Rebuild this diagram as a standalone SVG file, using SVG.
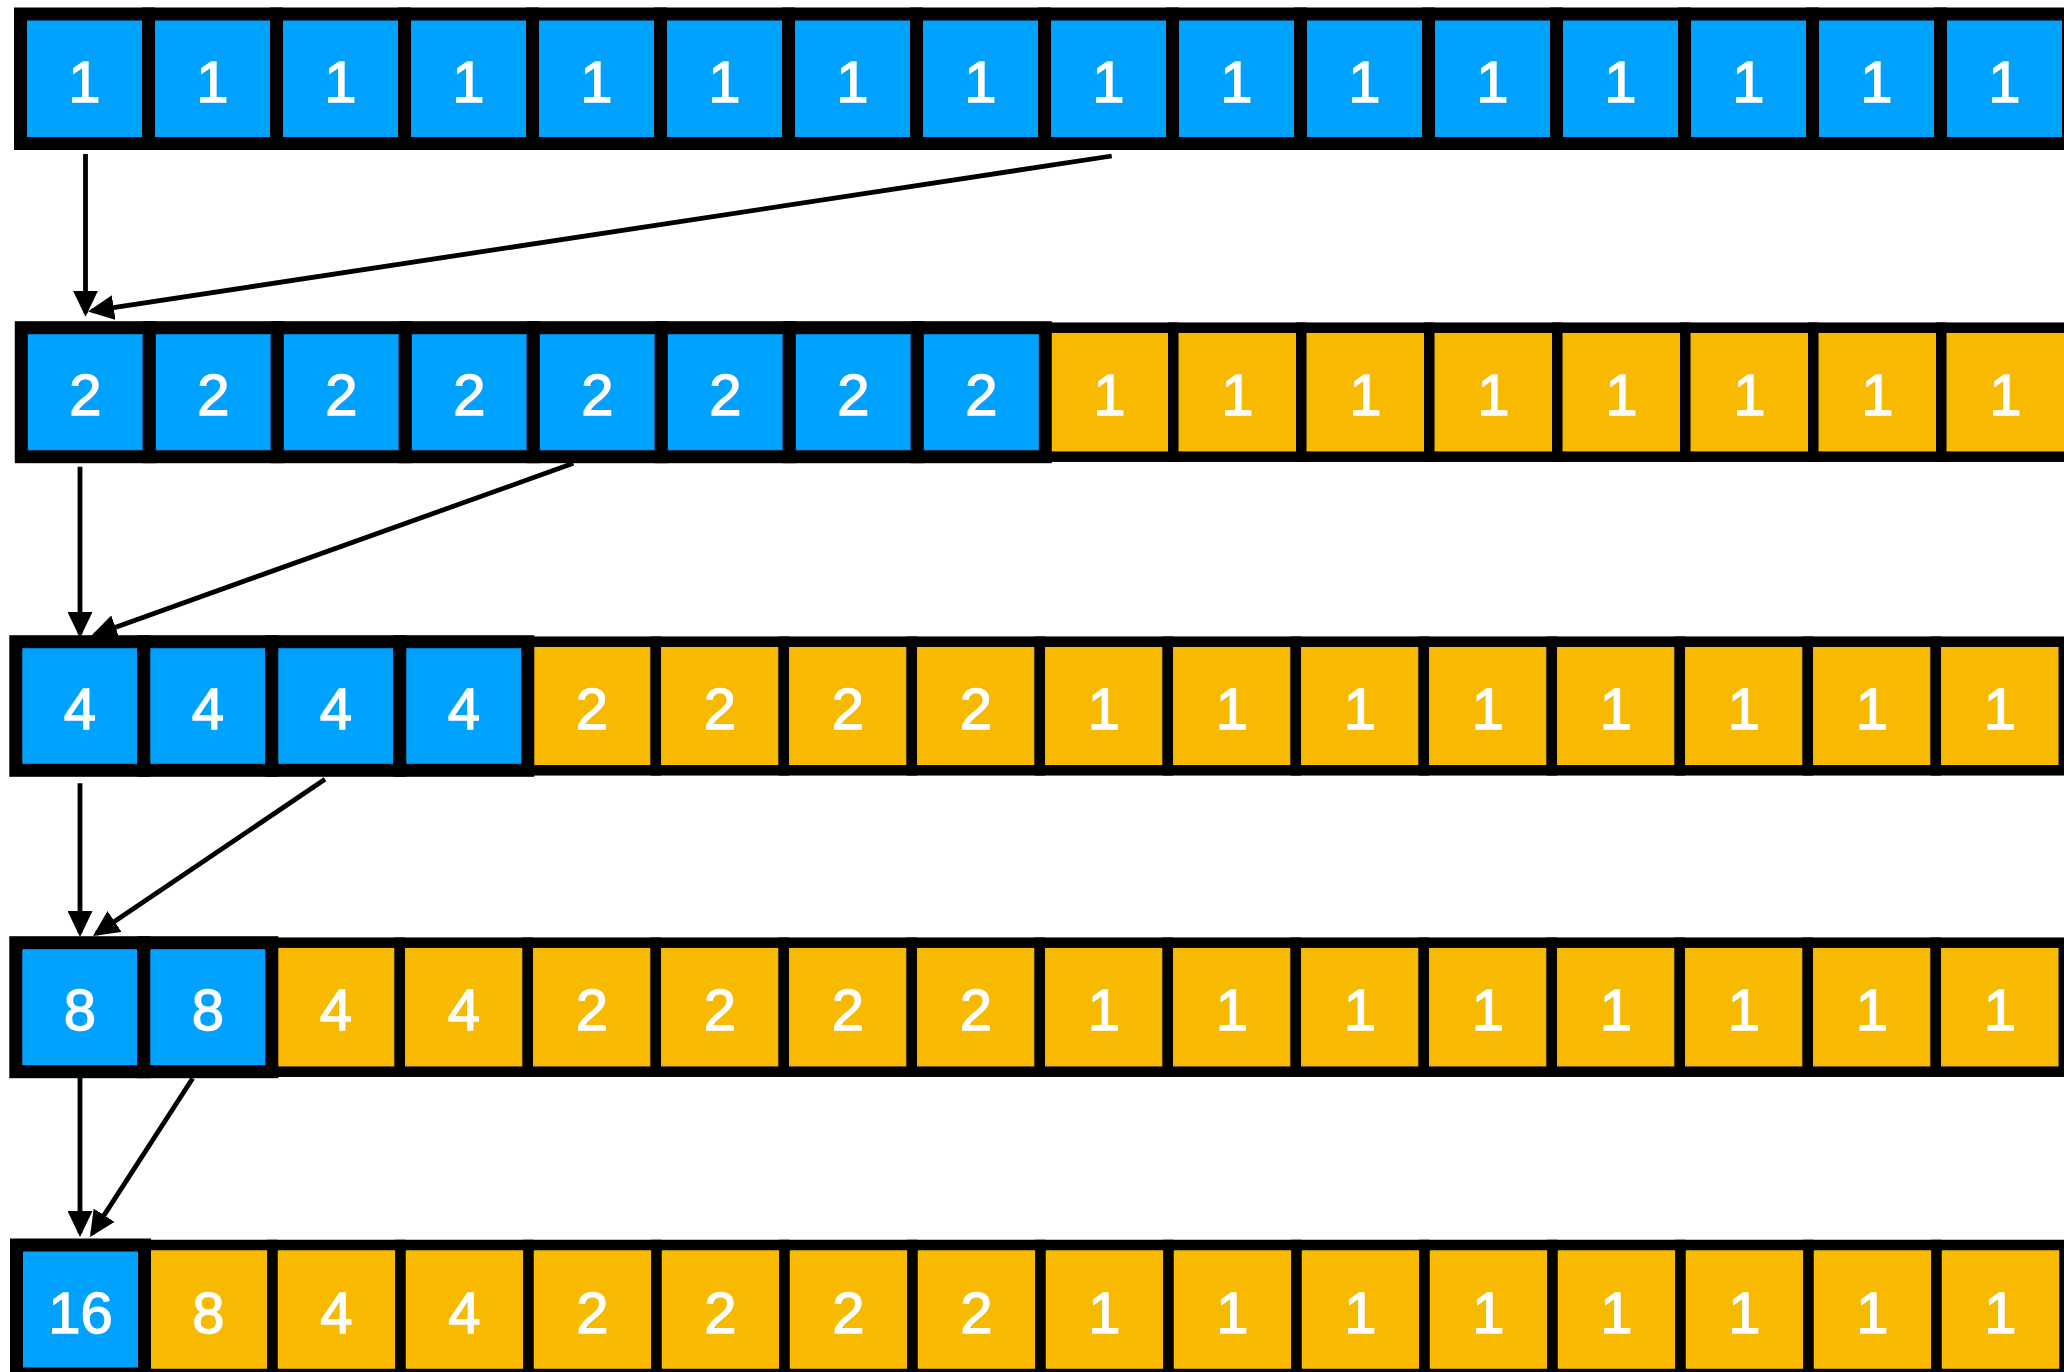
<svg xmlns="http://www.w3.org/2000/svg" width="2064" height="1372" viewBox="0 0 2064 1372">
<style>
.b rect{fill:#00A2FF;stroke:#000;stroke-width:13}
.y rect{fill:#F7BA00;stroke:#000;stroke-width:10.5}
text{font-family:"Liberation Sans",Arial,Helvetica,sans-serif;font-size:58px;fill:#fff;stroke:#fff;stroke-width:1.3;text-anchor:middle}
.arr{stroke:#000;stroke-width:4.8;fill:none;marker-end:url(#ah)}
</style>
<defs>
<marker id="ah" markerUnits="userSpaceOnUse" markerWidth="26" markerHeight="25" refX="22" refY="12.5" orient="auto">
<path d="M0,0 L26,12.5 L0,25 z" fill="#000"/>
</marker>
</defs>
<rect width="2064" height="1372" fill="#fff"/>

<!-- Row 1 -->
<g id="row1">
<g class="b">
<g id="r1c1"><rect x="20.5" y="14" width="128" height="129.5"/><text x="84.5" y="101.5">1</text></g>
<g id="r1c2"><rect x="148.5" y="14" width="128" height="129.5"/><text x="212.5" y="101.5">1</text></g>
<g id="r1c3"><rect x="276.5" y="14" width="128" height="129.5"/><text x="340.5" y="101.5">1</text></g>
<g id="r1c4"><rect x="404.5" y="14" width="128" height="129.5"/><text x="468.5" y="101.5">1</text></g>
<g id="r1c5"><rect x="532.5" y="14" width="128" height="129.5"/><text x="596.5" y="101.5">1</text></g>
<g id="r1c6"><rect x="660.5" y="14" width="128" height="129.5"/><text x="724.5" y="101.5">1</text></g>
<g id="r1c7"><rect x="788.5" y="14" width="128" height="129.5"/><text x="852.5" y="101.5">1</text></g>
<g id="r1c8"><rect x="916.5" y="14" width="128" height="129.5"/><text x="980.5" y="101.5">1</text></g>
<g id="r1c9"><rect x="1044.5" y="14" width="128" height="129.5"/><text x="1108.5" y="101.5">1</text></g>
<g id="r1c10"><rect x="1172.5" y="14" width="128" height="129.5"/><text x="1236.5" y="101.5">1</text></g>
<g id="r1c11"><rect x="1300.5" y="14" width="128" height="129.5"/><text x="1364.5" y="101.5">1</text></g>
<g id="r1c12"><rect x="1428.5" y="14" width="128" height="129.5"/><text x="1492.5" y="101.5">1</text></g>
<g id="r1c13"><rect x="1556.5" y="14" width="128" height="129.5"/><text x="1620.5" y="101.5">1</text></g>
<g id="r1c14"><rect x="1684.5" y="14" width="128" height="129.5"/><text x="1748.5" y="101.5">1</text></g>
<g id="r1c15"><rect x="1812.5" y="14" width="128" height="129.5"/><text x="1876.5" y="101.5">1</text></g>
<g id="r1c16"><rect x="1940.5" y="14" width="128" height="129.5"/><text x="2004.5" y="101.5">1</text></g>
</g>
</g>

<!-- Row 2 -->
<g id="row2">
<g class="y">
<g id="r2c9"><rect x="1045.3" y="327.7" width="128" height="129"/><text x="1109.3" y="415">1</text></g>
<g id="r2c10"><rect x="1173.3" y="327.7" width="128" height="129"/><text x="1237.3" y="415">1</text></g>
<g id="r2c11"><rect x="1301.3" y="327.7" width="128" height="129"/><text x="1365.3" y="415">1</text></g>
<g id="r2c12"><rect x="1429.3" y="327.7" width="128" height="129"/><text x="1493.3" y="415">1</text></g>
<g id="r2c13"><rect x="1557.3" y="327.7" width="128" height="129"/><text x="1621.3" y="415">1</text></g>
<g id="r2c14"><rect x="1685.3" y="327.7" width="128" height="129"/><text x="1749.3" y="415">1</text></g>
<g id="r2c15"><rect x="1813.3" y="327.7" width="128" height="129"/><text x="1877.3" y="415">1</text></g>
<g id="r2c16"><rect x="1941.3" y="327.7" width="128" height="129"/><text x="2005.3" y="415">1</text></g>
</g>
<g class="b">
<g id="r2c1"><rect x="21.3" y="327.7" width="128" height="129"/><text x="85.3" y="415">2</text></g>
<g id="r2c2"><rect x="149.3" y="327.7" width="128" height="129"/><text x="213.3" y="415">2</text></g>
<g id="r2c3"><rect x="277.3" y="327.7" width="128" height="129"/><text x="341.3" y="415">2</text></g>
<g id="r2c4"><rect x="405.3" y="327.7" width="128" height="129"/><text x="469.3" y="415">2</text></g>
<g id="r2c5"><rect x="533.3" y="327.7" width="128" height="129"/><text x="597.3" y="415">2</text></g>
<g id="r2c6"><rect x="661.3" y="327.7" width="128" height="129"/><text x="725.3" y="415">2</text></g>
<g id="r2c7"><rect x="789.3" y="327.7" width="128" height="129"/><text x="853.3" y="415">2</text></g>
<g id="r2c8"><rect x="917.3" y="327.7" width="128" height="129"/><text x="981.3" y="415">2</text></g>
</g>
</g>

<!-- Row 3 -->
<g id="row3">
<g class="y">
<g id="r3c5"><rect x="527.8" y="641.7" width="128" height="128.6"/><text x="591.8" y="729">2</text></g>
<g id="r3c6"><rect x="655.8" y="641.7" width="128" height="128.6"/><text x="719.8" y="729">2</text></g>
<g id="r3c7"><rect x="783.8" y="641.7" width="128" height="128.6"/><text x="847.8" y="729">2</text></g>
<g id="r3c8"><rect x="911.8" y="641.7" width="128" height="128.6"/><text x="975.8" y="729">2</text></g>
<g id="r3c9"><rect x="1039.8" y="641.7" width="128" height="128.6"/><text x="1103.8" y="729">1</text></g>
<g id="r3c10"><rect x="1167.8" y="641.7" width="128" height="128.6"/><text x="1231.8" y="729">1</text></g>
<g id="r3c11"><rect x="1295.8" y="641.7" width="128" height="128.6"/><text x="1359.8" y="729">1</text></g>
<g id="r3c12"><rect x="1423.8" y="641.7" width="128" height="128.6"/><text x="1487.8" y="729">1</text></g>
<g id="r3c13"><rect x="1551.8" y="641.7" width="128" height="128.6"/><text x="1615.8" y="729">1</text></g>
<g id="r3c14"><rect x="1679.8" y="641.7" width="128" height="128.6"/><text x="1743.8" y="729">1</text></g>
<g id="r3c15"><rect x="1807.8" y="641.7" width="128" height="128.6"/><text x="1871.8" y="729">1</text></g>
<g id="r3c16"><rect x="1935.8" y="641.7" width="128" height="128.6"/><text x="1999.8" y="729">1</text></g>
</g>
<g class="b">
<g id="r3c1"><rect x="15.8" y="641.7" width="128" height="128.6"/><text x="79.8" y="729">4</text></g>
<g id="r3c2"><rect x="143.8" y="641.7" width="128" height="128.6"/><text x="207.8" y="729">4</text></g>
<g id="r3c3"><rect x="271.8" y="641.7" width="128" height="128.6"/><text x="335.8" y="729">4</text></g>
<g id="r3c4"><rect x="399.8" y="641.7" width="128" height="128.6"/><text x="463.8" y="729">4</text></g>
</g>
</g>

<!-- Row 4 -->
<g id="row4">
<g class="y">
<g id="r4c3"><rect x="271.8" y="942.7" width="128" height="129"/><text x="335.8" y="1030.2">4</text></g>
<g id="r4c4"><rect x="399.8" y="942.7" width="128" height="129"/><text x="463.8" y="1030.2">4</text></g>
<g id="r4c5"><rect x="527.8" y="942.7" width="128" height="129"/><text x="591.8" y="1030.2">2</text></g>
<g id="r4c6"><rect x="655.8" y="942.7" width="128" height="129"/><text x="719.8" y="1030.2">2</text></g>
<g id="r4c7"><rect x="783.8" y="942.7" width="128" height="129"/><text x="847.8" y="1030.2">2</text></g>
<g id="r4c8"><rect x="911.8" y="942.7" width="128" height="129"/><text x="975.8" y="1030.2">2</text></g>
<g id="r4c9"><rect x="1039.8" y="942.7" width="128" height="129"/><text x="1103.8" y="1030.2">1</text></g>
<g id="r4c10"><rect x="1167.8" y="942.7" width="128" height="129"/><text x="1231.8" y="1030.2">1</text></g>
<g id="r4c11"><rect x="1295.8" y="942.7" width="128" height="129"/><text x="1359.8" y="1030.2">1</text></g>
<g id="r4c12"><rect x="1423.8" y="942.7" width="128" height="129"/><text x="1487.8" y="1030.2">1</text></g>
<g id="r4c13"><rect x="1551.8" y="942.7" width="128" height="129"/><text x="1615.8" y="1030.2">1</text></g>
<g id="r4c14"><rect x="1679.8" y="942.7" width="128" height="129"/><text x="1743.8" y="1030.2">1</text></g>
<g id="r4c15"><rect x="1807.8" y="942.7" width="128" height="129"/><text x="1871.8" y="1030.2">1</text></g>
<g id="r4c16"><rect x="1935.8" y="942.7" width="128" height="129"/><text x="1999.8" y="1030.2">1</text></g>
</g>
<g class="b">
<g id="r4c1"><rect x="15.8" y="942.7" width="128" height="129"/><text x="79.8" y="1030.2">8</text></g>
<g id="r4c2"><rect x="143.8" y="942.7" width="128" height="129"/><text x="207.8" y="1030.2">8</text></g>
</g>
</g>

<!-- Row 5 -->
<g id="row5">
<g class="y">
<g id="r5c2"><rect x="144.5" y="1245" width="128" height="129"/><text x="208.5" y="1332.5">8</text></g>
<g id="r5c3"><rect x="272.5" y="1245" width="128" height="129"/><text x="336.5" y="1332.5">4</text></g>
<g id="r5c4"><rect x="400.5" y="1245" width="128" height="129"/><text x="464.5" y="1332.5">4</text></g>
<g id="r5c5"><rect x="528.5" y="1245" width="128" height="129"/><text x="592.5" y="1332.5">2</text></g>
<g id="r5c6"><rect x="656.5" y="1245" width="128" height="129"/><text x="720.5" y="1332.5">2</text></g>
<g id="r5c7"><rect x="784.5" y="1245" width="128" height="129"/><text x="848.5" y="1332.5">2</text></g>
<g id="r5c8"><rect x="912.5" y="1245" width="128" height="129"/><text x="976.5" y="1332.5">2</text></g>
<g id="r5c9"><rect x="1040.5" y="1245" width="128" height="129"/><text x="1104.5" y="1332.5">1</text></g>
<g id="r5c10"><rect x="1168.5" y="1245" width="128" height="129"/><text x="1232.5" y="1332.5">1</text></g>
<g id="r5c11"><rect x="1296.5" y="1245" width="128" height="129"/><text x="1360.5" y="1332.5">1</text></g>
<g id="r5c12"><rect x="1424.5" y="1245" width="128" height="129"/><text x="1488.5" y="1332.5">1</text></g>
<g id="r5c13"><rect x="1552.5" y="1245" width="128" height="129"/><text x="1616.5" y="1332.5">1</text></g>
<g id="r5c14"><rect x="1680.5" y="1245" width="128" height="129"/><text x="1744.5" y="1332.5">1</text></g>
<g id="r5c15"><rect x="1808.5" y="1245" width="128" height="129"/><text x="1872.5" y="1332.5">1</text></g>
<g id="r5c16"><rect x="1936.5" y="1245" width="128" height="129"/><text x="2000.5" y="1332.5">1</text></g>
</g>
<g class="b">
<g id="r5c1"><rect x="16.5" y="1245" width="128" height="129"/><text x="80.5" y="1332.5">16</text></g>
</g>
</g>

<!-- Connectors -->
<g id="connectors">
<path class="arr" d="M85.5,154 L85.5,312.7"/>
<path class="arr" d="M1111.7,156 L91.95,310.9"/>
<path class="arr" d="M80,466.7 L80,634"/>
<path class="arr" d="M573.3,463.3 L94.77,634.65"/>
<path class="arr" d="M80,783.3 L80,933"/>
<path class="arr" d="M325,779.3 L96.31,933.76"/>
<path class="arr" d="M80,1078 L80,1233"/>
<path class="arr" d="M192.7,1078.3 L92.17,1233.64"/>
</g>
</svg>
